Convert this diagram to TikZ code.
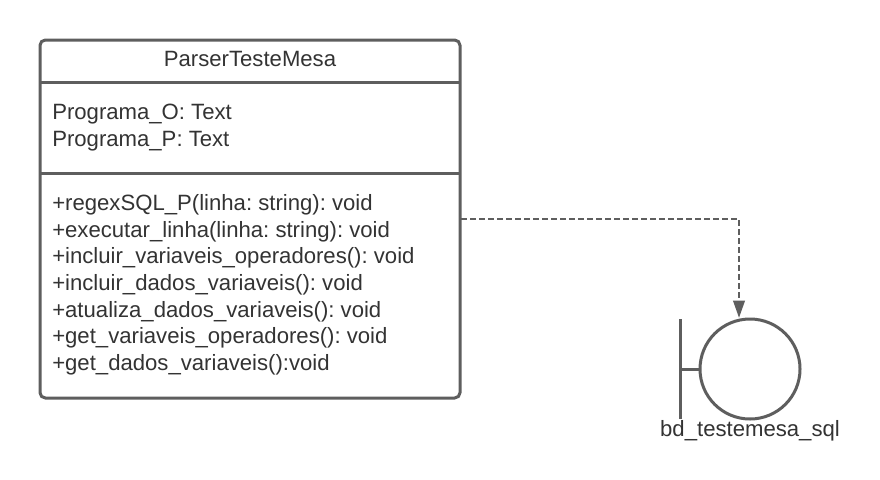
\documentclass[tikz,border=0pt]{standalone}
\usepackage{fontspec}
\setmainfont{Liberation Sans}
\usetikzlibrary{arrows.meta}
\definecolor{ln}{HTML}{5E5E5E}
\definecolor{tx}{HTML}{333333}
\tikzset{
 px/.style={x=0.75pt,y=-0.75pt},
 lbl/.style={inner sep=0pt,anchor=base west,text=tx,font=\fontsize{16.6}{16.6}\selectfont\frenchspacing},
 edge/.style={draw=ln,line width=2.25pt},
}
\begin{document}
\begin{tikzpicture}[px]
\useasboundingbox (0,0) rectangle (880,479);
\fill[white] (0,0) rectangle (880,479);
\node[draw=ln,line width=2.25pt,rounded corners=4pt,minimum width=315pt,minimum height=268.5pt,inner sep=0pt,outer sep=0pt,anchor=north west] (cls) at (40,40) {};
\coordinate (d1l) at (40,82); \coordinate (d1r) at (460,82);
\coordinate (d2l) at (40,173); \coordinate (d2r) at (460,173);
\draw[edge] (d1l) -- (d1r);
\draw[edge] (d2l) -- (d2r);
\node[lbl,anchor=base] (title) at (250,66.4) {ParserTesteMesa};
\node[lbl] (a1) at (52,119.8) {Programa\_O: Text};
\node[lbl] (a2) at (52,146.2) {Programa\_P: Text};
\node[lbl] (m1) at (52,210.3) {+regexSQL\_P(linha: string): void};
\node[lbl] (m2) at (52,237) {+executar\_linha(linha: string): void};
\node[lbl] (m3) at (52,263.6) {+incluir\_variaveis\_operadores(): void};
\node[lbl] (m4) at (52,290.3) {+incluir\_dados\_variaveis(): void};
\node[lbl] (m5) at (52,317) {+atualiza\_dados\_variaveis(): void};
\node[lbl] (m6) at (52,343.5) {+get\_variaveis\_operadores(): void};
\node[lbl] (m7) at (52,370.2) {+get\_dados\_variaveis():void};
\node[circle,draw=ln,line width=2.25pt,minimum size=75pt,inner sep=0pt,outer sep=0pt] (bd) at (750,369) {};
\coordinate (bt) at (680,319); \coordinate (bb) at (680,419);
\draw[edge] (bt) -- (bb);
\coordinate (bm) at (680,369);
\draw[edge] (bm) -- (bd.west);
\node[lbl,anchor=base] (bdl) at (750,436) {bd\_testemesa\_sql};
\coordinate (st) at (461,219);
\coordinate (tip) at (739,318);
\draw[draw=ln,line width=2pt,dash pattern=on 4.5pt off 2.25pt,-{Triangle[length=13pt,width=8.5pt,fill=ln]}] (st) -| (tip);
\end{tikzpicture}
\end{document}
